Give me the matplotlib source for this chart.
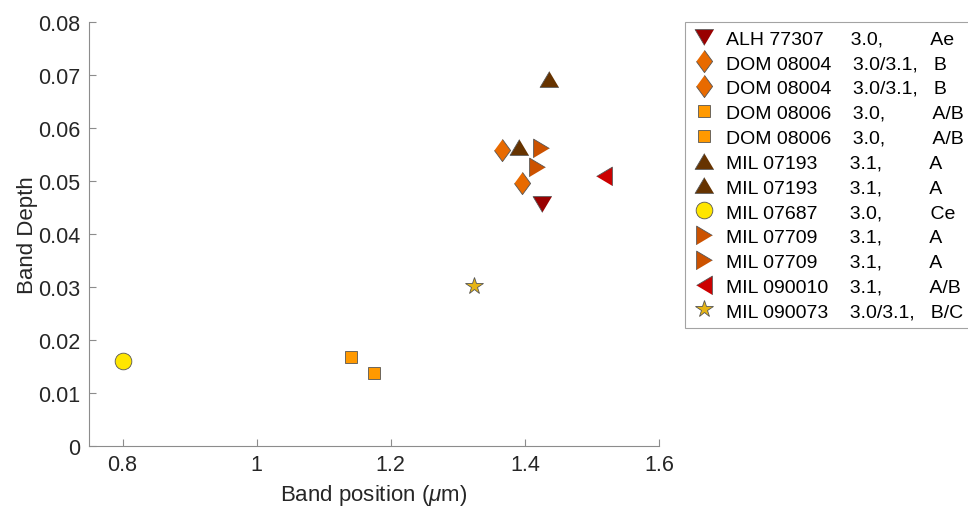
import matplotlib
matplotlib.use("Agg")
import matplotlib.pyplot as plt

plt.rcParams['font.family'] = ['Liberation Sans', 'DejaVu Sans']
plt.rcParams['mathtext.fontset'] = 'custom'
plt.rcParams['mathtext.rm'] = 'Liberation Sans'
plt.rcParams['mathtext.it'] = 'Liberation Sans:italic'

# data
names = ["ALH 77307", "DOM 08004", "DOM 08004", "DOM 08006", "DOM 08006",
         "MIL 07193", "MIL 07193", "MIL 07687", "MIL 07709", "MIL 07709",
         "MIL 090010", "MIL 090073"]
types = ["3.0,", "3.0/3.1,", "3.0/3.1,", "3.0,", "3.0,",
         "3.1,", "3.1,", "3.0,", "3.1,", "3.1,", "3.1,", "3.0/3.1,"]
groups = ["Ae", "B", "B", "A/B", "A/B", "A", "A", "Ce", "A", "A", "A/B", "B/C"]
band_pos = [1.425, 1.366, 1.396, 1.140, 1.175, 1.436, 1.391, 0.800,
            1.424, 1.418, 1.518, 1.324]
band_depth = [0.0457, 0.0558, 0.0496, 0.0168, 0.0138, 0.0692, 0.0564, 0.0160,
              0.0562, 0.0526, 0.0509, 0.0302]

# column gaps (spaces) to mimic the padded legend text
gap1 = [5, 4, 4, 4, 4, 6, 6, 6, 6, 6, 4, 4]
gap2 = [9, 3, 3, 9, 9, 9, 9, 9, 9, 9, 9, 3]

tri_up = [(0, 0.84), (-1, -0.84), (1, -0.84)]
tri_dn = [(0, -0.84), (-1, 0.84), (1, 0.84)]
tri_rt = [(0.84, 0), (-0.84, 1), (-0.84, -1)]
tri_lt = [(-0.84, 0), (0.84, 1), (0.84, -1)]
diamond = [(0, 1), (0.73, 0), (0, -1), (-0.73, 0)]

styles = {
    "ALH 77307": (tri_dn, "#990000", 13.5),
    "DOM 08004": (diamond, "#E86A00", 16),
    "DOM 08006": ("s", "#FF9900", 9),
    "MIL 07193": (tri_up, "#663300", 13.5),
    "MIL 07687": ("o", "#FFE600", 12),
    "MIL 07709": (tri_rt, "#CC5200", 13.5),
    "MIL 090010": (tri_lt, "#CC0000", 13.5),
    "MIL 090073": ("*", "#E6B414", 13),
}

fig = plt.figure(figsize=(9.68, 5.10), dpi=100)
ax = fig.add_axes([89/968, 63/510, 570/968, 424/510])

for i in range(len(names)):
    mk, col, ms = styles[names[i]]
    label = names[i] + " " * gap1[i] + types[i] + " " * gap2[i] + groups[i]
    ax.plot(band_pos[i], band_depth[i], linestyle="none", marker=mk, ms=ms,
            markerfacecolor=col, markeredgecolor="#555555", markeredgewidth=0.6,
            label=label)

ax.set_xlim(0.75, 1.6)
ax.set_ylim(0, 0.08)
ax.set_xticks([0.8, 1.0, 1.2, 1.4, 1.6])
ax.set_xticklabels(["0.8", "1", "1.2", "1.4", "1.6"])
ax.set_yticks([0, 0.01, 0.02, 0.03, 0.04, 0.05, 0.06, 0.07, 0.08])
ax.set_yticklabels(["0", "0.01", "0.02", "0.03", "0.04", "0.05", "0.06", "0.07", "0.08"])
for s in ["top", "right"]:
    ax.spines[s].set_visible(False)
for s in ["left", "bottom"]:
    ax.spines[s].set_color("#8c8c8c")
    ax.spines[s].set_linewidth(0.8)
ax.tick_params(direction="in", length=5, color="#8c8c8c", labelsize=15.5,
               labelcolor="#262626", pad=6)
ax.set_xlabel("Band position ($\\mu$m)", fontsize=16, color="#262626", labelpad=5)
ax.set_ylabel("Band Depth", fontsize=16, color="#262626", labelpad=0)

leg = fig.legend(loc="upper left", bbox_to_anchor=(685/968, 1 - 23/510),
                 fontsize=14, frameon=True, fancybox=False, edgecolor="#8c8c8c",
                 handlelength=1.2, handletextpad=0.5, borderpad=0.4,
                 labelspacing=0.37, borderaxespad=0, numpoints=1)
leg.get_frame().set_linewidth(0.8)

fig.savefig("out.png", dpi=100)
